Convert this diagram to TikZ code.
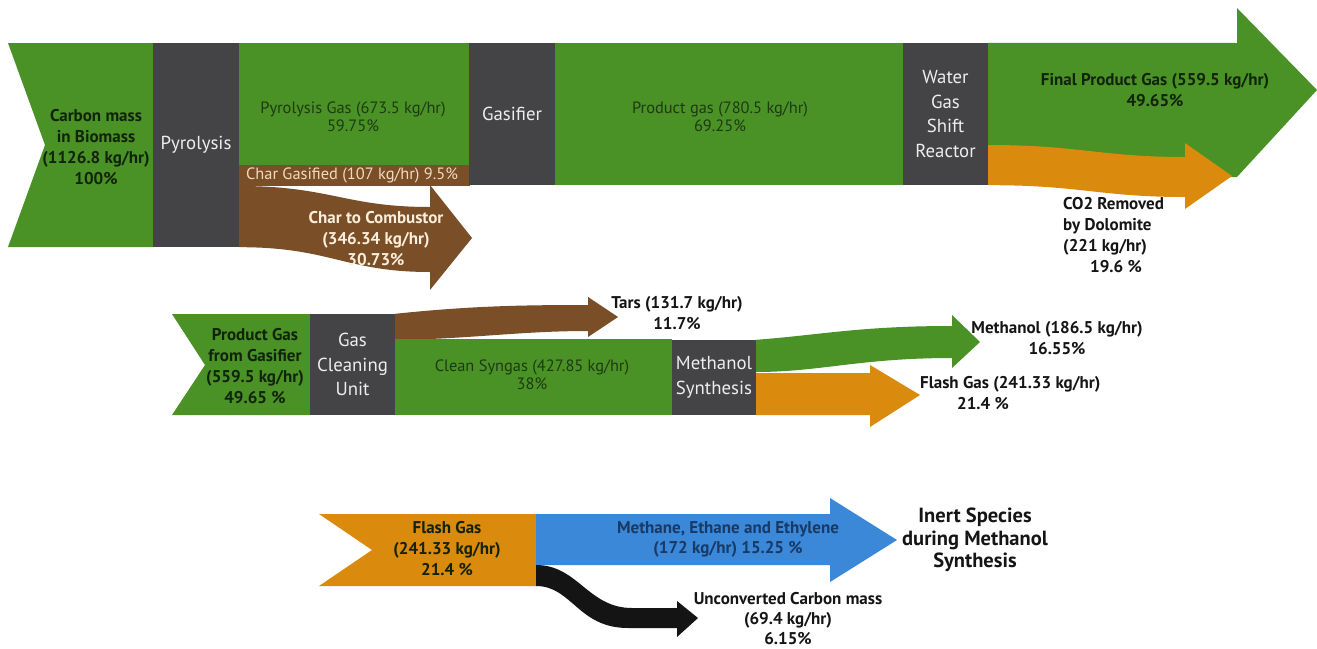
\documentclass[tikz,border=0pt]{standalone}
\usepackage{fontspec}
\setmainfont{PT Sans}
\definecolor{grn}{HTML}{4A9126}
\definecolor{dkg}{HTML}{444446}
\definecolor{brn}{HTML}{7A4E27}
\definecolor{org}{HTML}{DA8A0C}
\definecolor{blu}{HTML}{3B87D8}
\definecolor{boxtxt}{HTML}{EDEDED}
\definecolor{ingtxt}{HTML}{1E3A12}
\definecolor{lbltxt}{HTML}{151515}
\definecolor{peach}{HTML}{F2D9BE}
\definecolor{cream}{HTML}{FBEEDC}
\definecolor{navy}{HTML}{173A66}
\begin{document}
\begin{tikzpicture}[x=1pt,y=-1pt,
  box/.style={fill=dkg, text=boxtxt, inner sep=0pt, align=center, font=\fontsize{18.8}{24.5}\selectfont},
  inlbl/.style={text=ingtxt, align=center, inner sep=0pt, font=\fontsize{16.4}{17.5}\selectfont},
  blbl/.style={text=lbltxt, align=center, inner sep=0pt, font=\bfseries\fontsize{17}{21}\selectfont},
]
\fill[white] (0,0) rectangle (1317,648);
\useasboundingbox (0,0) rectangle (1317,648);

% ---------------- top row ----------------
\fill[grn] (8,43) -- (153,43) -- (153,247) -- (8,247) -- (45,145) -- cycle;
\node[box, minimum width=86pt, minimum height=204pt] (pyro) at (196,145) {Pyrolysis};
\fill[grn] (pyro.north east) rectangle (470,165);
\fill[brn] (239,165) rectangle (470,186);
\node[box, minimum width=86pt, minimum height=142pt] (gasif) at (512,114) {Gasifier};
\node[box, minimum width=85pt, minimum height=142pt] (wgs) at (945.5,114) {Water\\Gas\\Shift\\Reactor};
\fill[grn] (gasif.north east) rectangle (wgs.south west);
% char to combustor
\fill[brn] (pyro.east |- 0,186) .. controls (330,186) and (345,207) .. (430,207) -- (430,185) -- (472,238) -- (430,290) -- (430,272) .. controls (345,272) and (330,247) .. (pyro.south east) -- cycle;
% final product gas
\fill[grn] (wgs.north east) -- (1237,43) -- (1237,8) -- (1317,90) -- (1237,177) -- (988,177) -- cycle;
% CO2 removed
\fill[org] (988,145) .. controls (1080,145) and (1100,157) .. (1185,157) -- (1185,143) -- (1232,176) -- (1185,209) -- (1185,197) .. controls (1100,197) and (1080,185) .. (wgs.south east) -- cycle;

\node[blbl, text=ingtxt!60!black] (cbio) at (96,147) {Carbon mass\\in Biomass\\(1126.8 kg/hr)\\100\%};
\node[inlbl] (pgas) at (353,117) {Pyrolysis Gas (673.5 kg/hr)\\59.75\%};
\node[inlbl, text=peach] (cgas) at (352,175.5) {Char Gasified (107 kg/hr) 9.5\%};
\node[blbl, text=cream] (ccomb) at (376,239) {Char to Combustor\\(346.34 kg/hr)\\30.73\%};
\node[inlbl] (prodg) at (720,117) {Product gas (780.5 kg/hr)\\69.25\%};
\node[blbl, text=ingtxt!60!black] (fpg) at (1155,90) {Final Product Gas (559.5 kg/hr)\\49.65\%};
\node[blbl, align=left, anchor=west] (co2) at (1063,235) {CO2 Removed\\by Dolomite\\(221 kg/hr)\\\hspace*{27pt}19.6 \%};

% ---------------- middle row ----------------
\fill[grn] (172,314) -- (310,314) -- (310,415) -- (172,415) -- (205,365) -- cycle;
\node[box, minimum width=85pt, minimum height=101pt] (gcu) at (352.5,364.5) {Gas\\Cleaning\\Unit};
\fill[brn] (gcu.north east) .. controls (470,306) and (520,305) .. (588,305) -- (588,297) -- (618,317) -- (588,337) -- (588,331) .. controls (520,331) and (470,339) .. (395,340) -- cycle;
\fill[grn] (395,339) rectangle (672,415);
\node[box, minimum width=84pt, minimum height=75pt] (msyn) at (714,377.5) {Methanol\\Synthesis};
\fill[grn] (msyn.north east) .. controls (820,335) and (860,326) .. (952,326) -- (952,315) -- (980,342) -- (952,368) -- (952,358) .. controls (860,358) and (820,372) .. (756,372) -- cycle;
\fill[org] (756,373) -- (870,373) -- (870,365) -- (920,395) -- (870,427) -- (870,415) -- (msyn.south east) -- cycle;

\node[blbl, text=ingtxt!60!black] (pgg) at (255,366) {Product Gas\\from Gasifier\\(559.5 kg/hr)\\49.65 \%};
\node[blbl] (tars) at (677,313) {Tars (131.7 kg/hr)\\11.7\%};
\node[inlbl] (csg) at (532,375) {Clean Syngas (427.85 kg/hr)\\38\%};
\node[blbl] (meth) at (1057,338) {Methanol (186.5 kg/hr)\\16.55\%};
\node[blbl, align=left, anchor=west] (flash1) at (920,393.5) {Flash Gas (241.33 kg/hr)\\\hspace*{37pt}21.4 \%};

% ---------------- bottom row ----------------
\coordinate (fgR) at (536,514);
\fill[org] (319,514) -- (fgR) -- (536,586) -- (319,586) -- (372,550) -- cycle;
\fill[blu] (fgR) -- (830,514) -- (830,498) -- (897,540) -- (830,582) -- (830,565) -- (536,565) -- cycle;
\fill[black!92] (536,565) .. controls (578,565) and (588,608) .. (632,608) -- (677,608) -- (677,601) -- (698,618) -- (677,637) -- (677,628) -- (628,628) .. controls (578,628) and (572,586) .. (536,586) -- cycle;

\node[blbl, text=ingtxt!60!black] (fg2) at (447,549) {Flash Gas\\(241.33 kg/hr)\\21.4 \%};
\node[blbl, text=navy, font=\bfseries\fontsize{17}{20}\selectfont] (mee) at (728,539) {Methane, Ethane and Ethylene\\(172 kg/hr) 15.25 \%};
\node[blbl, font=\bfseries\fontsize{20.5}{22.5}\selectfont] (inert) at (975,540) {Inert Species\\during Methanol\\Synthesis};
\node[blbl, font=\bfseries\fontsize{17}{20}\selectfont] (ucm) at (788,619) {Unconverted Carbon mass\\(69.4 kg/hr)\\6.15\%};
\end{tikzpicture}
\end{document}
